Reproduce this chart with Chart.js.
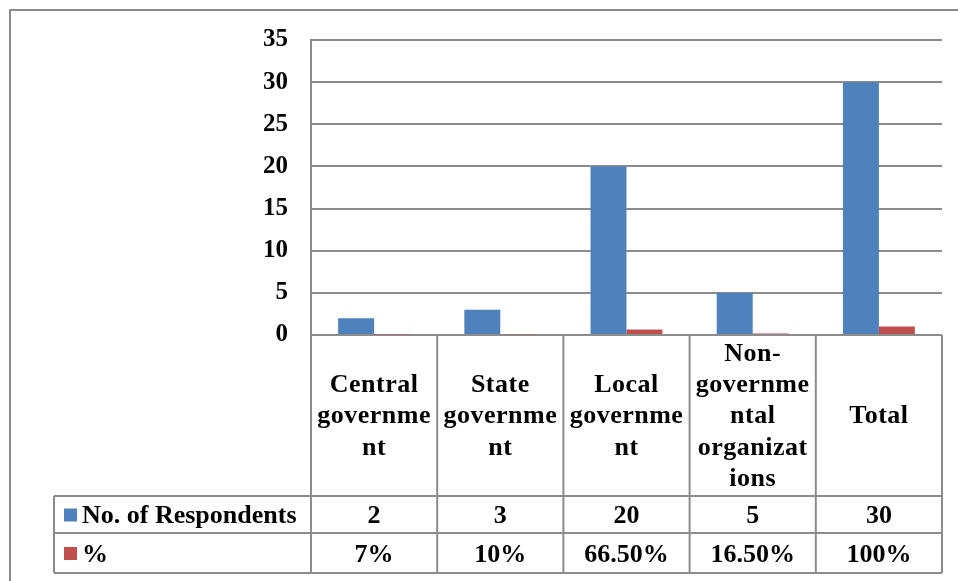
<!DOCTYPE html>
<html>
<head>
<meta charset="utf-8">
<script src="https://cdn.jsdelivr.net/npm/chart.js@4.4.0/dist/chart.umd.min.js"></script>
<style>
    html, body { margin: 0; padding: 0; background: #fff; }
    #wrap { width: 958px; height: 581px; position: relative; }
</style>
</head>
<body>
<div id="wrap"><canvas id="chart" width="958" height="581"></canvas></div>
<script>
// DATA
const categories = [
    ['Central', 'governme', 'nt'],
    ['State', 'governme', 'nt'],
    ['Local', 'governme', 'nt'],
    ['Non-', 'governme', 'ntal', 'organizat', 'ions'],
    ['Total']
];
const seriesNames = ['No. of Respondents', '%'];
const respondents = [2, 3, 20, 5, 30];
const percentValues = [0.07, 0.10, 0.665, 0.165, 1.00];
const respondentLabels = ['2', '3', '20', '5', '30'];
const percentLabels = ['7%', '10%', '66.50%', '16.50%', '100%'];
const yTicks = [0, 5, 10, 15, 20, 25, 30, 35];

const BLUE = '#4f81bd';
const RED = '#c0504d';
const LINE = '#8c8c8c';
const SERIF = '"Liberation Serif", "Times New Roman", serif';

// DATA TABLE + FRAME
const tablePlugin = {
    id: 'dataTable',
    afterDraw(chart) {
        const ctx = chart.ctx;
        const area = chart.chartArea;
        const n = categories.length;
        const colW = (area.right - area.left) / n;
        const headBottom = 496;
        const row1Bottom = 533;
        const row2Bottom = 573;
        const tableLeft = 54;

        ctx.save();
        ctx.strokeStyle = LINE;
        ctx.lineWidth = 2;

        // outer frame
        ctx.beginPath();
        ctx.moveTo(10, 581);
        ctx.lineTo(10, 10);
        ctx.lineTo(958, 10);
        ctx.stroke();

        // column lines
        for (let i = 0; i <= n; i++) {
            const x = area.left + colW * i;
            ctx.beginPath();
            ctx.moveTo(x, area.bottom);
            ctx.lineTo(x, row2Bottom);
            ctx.stroke();
        }
        // row lines
        [headBottom, row1Bottom, row2Bottom].forEach(y => {
            ctx.beginPath();
            ctx.moveTo(tableLeft, y);
            ctx.lineTo(area.right, y);
            ctx.stroke();
        });
        ctx.beginPath();
        ctx.moveTo(tableLeft, headBottom);
        ctx.lineTo(tableLeft, row2Bottom);
        ctx.stroke();

        // header text
        ctx.fillStyle = '#000';
        ctx.font = 'bold 26px ' + SERIF;
        ctx.letterSpacing = '0.5px';
        ctx.textAlign = 'center';
        ctx.textBaseline = 'middle';
        const headMid = (area.bottom + headBottom) / 2;
        const lineH = 31.3;
        categories.forEach((lines, i) => {
            const cx = area.left + colW * (i + 0.5);
            const startY = headMid - (lines.length - 1) * lineH / 2;
            lines.forEach((t, j) => ctx.fillText(t, cx, startY + j * lineH + 1));
        });

        // value rows
        ctx.font = 'bold 26px ' + SERIF;
        ctx.letterSpacing = '0px';
        const r1Mid = (headBottom + row1Bottom) / 2;
        const r2Mid = (row1Bottom + row2Bottom) / 2;
        respondentLabels.forEach((t, i) => {
            ctx.fillText(t, area.left + colW * (i + 0.5), r1Mid + 2);
        });
        percentLabels.forEach((t, i) => {
            ctx.fillText(t, area.left + colW * (i + 0.5), r2Mid + 2);
        });

        // legend keys + series names
        ctx.textAlign = 'left';
        ctx.fillStyle = BLUE;
        ctx.fillRect(64, r1Mid - 6, 13, 13);
        ctx.fillStyle = RED;
        ctx.fillRect(64, r2Mid - 6, 13, 13);
        ctx.fillStyle = '#000';
        ctx.fillText(seriesNames[0], 82, r1Mid + 2);
        ctx.fillText(seriesNames[1], 82, r2Mid + 2);
        ctx.restore();
    }
};

const ctx = document.getElementById('chart').getContext('2d');

new Chart(ctx, {
    type: 'bar',
    data: {
        labels: categories,
        datasets: [
            {
                label: seriesNames[0],
                data: respondents,
                backgroundColor: BLUE,
                categoryPercentage: 0.57,
                barPercentage: 1
            },
            {
                label: seriesNames[1],
                data: percentValues,
                backgroundColor: RED,
                categoryPercentage: 0.57,
                barPercentage: 1
            }
        ]
    },
    options: {
        responsive: false,
        animation: false,
        layout: { padding: { top: 40, bottom: 246, right: 16, left: 0 } },
        plugins: {
            legend: { display: false },
            tooltip: { enabled: false }
        },
        scales: {
            x: { display: false },
            y: {
                min: 0,
                max: 35,
                afterFit: scale => { scale.width = 311; },
                afterBuildTicks: scale => { scale.ticks = yTicks.map(v => ({ value: v })); },
                grid: { color: LINE, lineWidth: 2, drawTicks: false },
                border: { color: LINE, width: 2 },
                ticks: {
                    color: '#000',
                    padding: 23,
                    font: { family: SERIF, size: 25, weight: 'bold' }
                }
            }
        }
    },
    plugins: [tablePlugin]
});
</script>
</body>
</html>
